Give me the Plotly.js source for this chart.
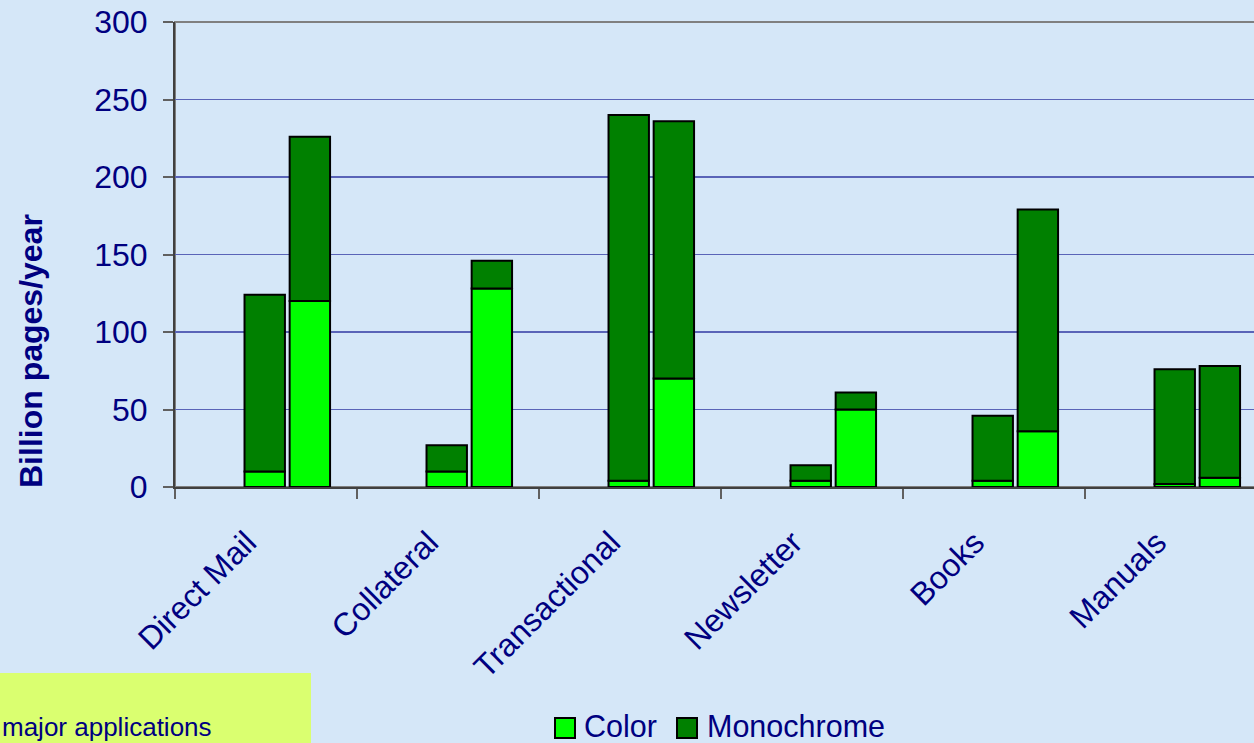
<!DOCTYPE html>
<html>
<head>
<meta charset="utf-8">
<script src="https://cdn.plot.ly/plotly-3.0.1.min.js"></script>
<style>
html, body { margin: 0; padding: 0; overflow: hidden; background: #D5E7F8; }
#chart { width: 1300px; height: 743px; }
</style>
</head>
<body>
<div id="chart"></div>
<script>
// ---- data ----
const categories = ['Direct Mail', 'Collateral', 'Transactional', 'Newsletter', 'Books', 'Manuals'];
const seriesNames = ['Color', 'Monochrome'];
const leftColor  = [10, 10, 4, 4, 4, 2];
const leftMono   = [114, 17, 236, 10, 42, 74];
const rightColor = [120, 128, 70, 50, 36, 6];
const rightMono  = [106, 18, 166, 11, 143, 72];
const yTicks = [0, 50, 100, 150, 200, 250, 300];
const noteText = 'major applications';
const yTitle = 'Billion pages/year';

// ---- style ----
const W = 1300, H = 743;
const L = 175, T = 22, R = W - 1267, B = H - 487;
const PW = W - L - R, PH = H - T - B;
const px = x => (x - L) / PW;
const py = y => (H - B - y) / PH;
const BG = '#D5E7F8';
const NAVY = '#000080';
const LIGHT = '#00FF00';
const DARK = '#008000';
const FONT = 'Liberation Sans, Arial, sans-serif';
const barLine = {color: '#000000', width: 2};
const bw = 0.222;
const offL = -0.118, offR = 0.130;

function bar(y, base, color, off, name) {
  const t = {
    type: 'bar', x: categories, y: y, name: name,
    offset: off, width: bw,
    marker: {color: color, line: barLine},
    showlegend: false, hoverinfo: 'x+y+name'
  };
  if (base) t.base = base;
  return t;
}

const data = [
  bar(leftColor, null, LIGHT, offL, seriesNames[0]),
  bar(leftMono, leftColor, DARK, offL, seriesNames[1]),
  bar(rightColor, null, LIGHT, offR, seriesNames[0]),
  bar(rightMono, rightColor, DARK, offR, seriesNames[1])
];

const legendItems = [
  {sq: [555, 575], tx: 583, color: LIGHT, name: seriesNames[0]},
  {sq: [677, 697], tx: 706, color: DARK, name: seriesNames[1]}
];

const shapes = [
  {type: 'rect', xref: 'paper', yref: 'paper', x0: 0, x1: 1, y0: 0, y1: 1,
   line: {color: '#808080', width: 2}, layer: 'below'},
  {type: 'rect', xref: 'paper', yref: 'paper', x0: px(-2), x1: px(311), y0: py(745), y1: py(673),
   fillcolor: '#DAFF70', line: {width: 0}, layer: 'below'}
];
const annotations = [
  {xref: 'paper', yref: 'paper', x: px(31), y: py(351), text: '<b>' + yTitle + '</b>',
   textangle: -90, showarrow: false, xanchor: 'center', yanchor: 'middle',
   font: {family: FONT, size: 32, color: NAVY}},
  {xref: 'paper', yref: 'paper', x: px(0.5), y: py(727), text: noteText,
   showarrow: false, xanchor: 'left', yanchor: 'middle', borderpad: 0,
   font: {family: FONT, size: 26, color: NAVY}}
];
legendItems.forEach(it => {
  shapes.push({type: 'rect', xref: 'paper', yref: 'paper',
    x0: px(it.sq[0]), x1: px(it.sq[1]), y0: py(738), y1: py(718),
    fillcolor: it.color, line: {color: '#000000', width: 2}});
  annotations.push({xref: 'paper', yref: 'paper', x: px(it.tx), y: py(726), text: it.name,
    showarrow: false, xanchor: 'left', yanchor: 'middle', borderpad: 0,
    font: {family: FONT, size: 30.5, color: NAVY}});
});

const layout = {
  width: W, height: H,
  margin: {l: L, r: R, t: T, b: B, pad: 0},
  paper_bgcolor: BG, plot_bgcolor: BG,
  barmode: 'overlay',
  showlegend: false,
  font: {family: FONT, color: NAVY, size: 30},
  xaxis: {
    type: 'category', range: [-0.5, 5.5], tickson: 'boundaries',
    ticks: 'outside', ticklen: 10, tickwidth: 2, tickcolor: '#606060',
    showline: true, linecolor: '#404040', linewidth: 2,
    showgrid: false, tickangle: -45,
    ticklabelstandoff: 22, ticklabelshift: -19,
    tickfont: {family: FONT, size: 32, color: NAVY}
  },
  yaxis: {
    range: [0, 300], tickvals: yTicks, ticktext: yTicks.map(String),
    ticks: 'outside', ticklen: 10, tickwidth: 2, tickcolor: '#606060',
    showline: true, linecolor: '#404040', linewidth: 2,
    showgrid: true, gridcolor: '#5A64B8', gridwidth: 1.5,
    zeroline: false, ticklabelstandoff: 9,
    tickfont: {family: FONT, size: 32, color: NAVY}
  },
  shapes: shapes,
  annotations: annotations
};

Plotly.newPlot('chart', data, layout, {displayModeBar: false, staticPlot: true});
</script>
</body>
</html>
